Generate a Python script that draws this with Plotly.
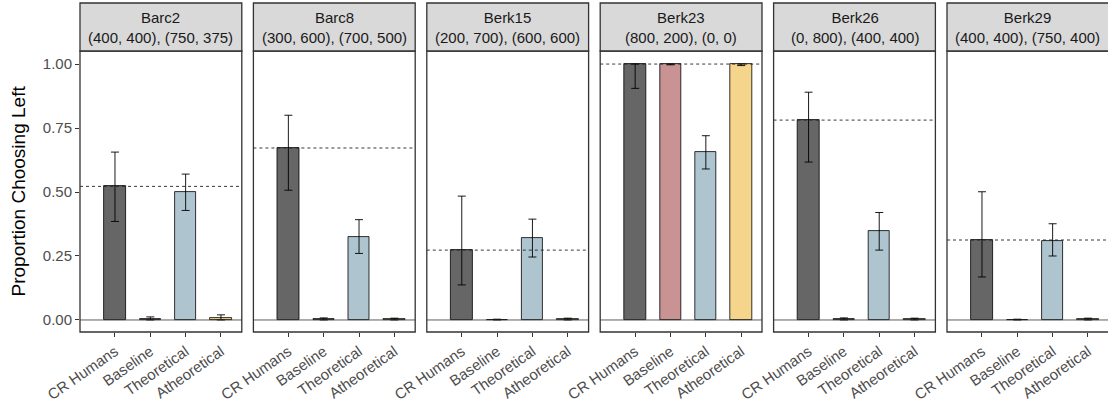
import plotly.graph_objects as go

# ---------------- data ----------------
panels = ["Barc2", "Barc8", "Berk15", "Berk23", "Berk26", "Berk29"]
subtitles = ["(400, 400), (750, 375)", "(300, 600), (700, 500)", "(200, 700), (600, 600)",
             "(800, 200), (0, 0)", "(0, 800), (400, 400)", "(400, 400), (750, 400)"]
categories = ["CR Humans", "Baseline", "Theoretical", "Atheoretical"]

cr_humans = [0.522, 0.672, 0.273, 1.0, 0.781, 0.3125]
cr_lo = [0.385, 0.507, 0.137, 0.905, 0.617, 0.168]
cr_hi = [0.656, 0.800, 0.484, 1.0, 0.890, 0.501]

baseline = [0.005, 0.004, 0.001, 1.0, 0.004, 0.001]
baseline_lo = [0.0, 0.0, 0.0, 0.997, 0.0, 0.0]
baseline_hi = [0.012, 0.008, 0.003, 1.0, 0.008, 0.003]

theoretical = [0.500, 0.323, 0.320, 0.656, 0.348, 0.310]
theo_lo = [0.428, 0.260, 0.246, 0.590, 0.273, 0.250]
theo_hi = [0.570, 0.392, 0.394, 0.720, 0.420, 0.376]

atheoretical = [0.008, 0.002, 0.002, 1.0, 0.002, 0.002]
atheo_lo = [0.0, 0.0, 0.0, 0.994, 0.0, 0.0]
atheo_hi = [0.020, 0.007, 0.007, 1.0, 0.007, 0.007]

y_tickvals = [0.0, 0.25, 0.5, 0.75, 1.0]
y_ticktext = ["0.00", "0.25", "0.50", "0.75", "1.00"]

colors = ["#666666", "#C99393", "#AEC5D0", "#F5D58B"]

# ---------------- layout geometry (pixels) ----------------
W, H = 1108, 404
ML, MT, MB = 80, 51, 72
PW = W - ML
PH = H - MT - MB
panel_step = 173.4
panel_w = 161.8
x_lo, x_hi = -0.99, 3.59
px_per_unit = panel_w / (x_hi - x_lo)
FONT = "Liberation Sans, Arial, Helvetica, sans-serif"

fig = go.Figure()
layout = dict(
    width=W, height=H,
    margin=dict(l=ML, r=0, t=MT, b=MB, pad=0),
    paper_bgcolor="white", plot_bgcolor="white",
    showlegend=False,
    font=dict(family=FONT, color="#4D4D4D", size=15),
    bargap=0,
)
shapes = []
annotations = []

for i, name in enumerate(panels):
    left = i * panel_step
    right = left + panel_w
    d0 = left / PW
    d1 = min(right / PW, 1.0)
    xr_hi = x_lo + (min(right, PW) - left) / px_per_unit
    xs = "" if i == 0 else str(i + 1)
    xa, ya = "x" + xs, "y" + xs

    vals = [cr_humans[i], baseline[i], theoretical[i], atheoretical[i]]
    los = [cr_lo[i], baseline_lo[i], theo_lo[i], atheo_lo[i]]
    his = [cr_hi[i], baseline_hi[i], theo_hi[i], atheo_hi[i]]
    fig.add_trace(go.Bar(
        x=list(range(len(categories))), y=vals, xaxis=xa, yaxis=ya,
        width=0.61,
        marker=dict(color=colors, line=dict(color="black", width=0.8)),
        error_y=dict(type="data", symmetric=False,
                     array=[h - v for h, v in zip(his, vals)],
                     arrayminus=[v - l for v, l in zip(vals, los)],
                     color="black", thickness=0.9, width=4),
        hoverinfo="skip",
    ))

    layout["xaxis" + xs] = dict(
        domain=[d0, d1], anchor=ya, range=[x_lo, xr_hi],
        tickmode="array", tickvals=list(range(len(categories))), ticktext=categories,
        tickangle=-35, ticks="outside", ticklen=4, tickwidth=1, tickcolor="#333333",
        tickfont=dict(size=15, color="#4D4D4D", family=FONT),
        showgrid=False, zeroline=False, showline=False, fixedrange=True,
    )
    ydict = dict(
        domain=[0, 1], anchor=xa, range=[-0.047, 1.051],
        showgrid=False, zeroline=False, showline=False, fixedrange=True,
    )
    if i == 0:
        ydict.update(tickmode="array", tickvals=y_tickvals, ticktext=y_ticktext,
                     ticks="outside", ticklen=4, tickwidth=1, tickcolor="#333333",
                     tickfont=dict(size=15, color="#4D4D4D", family=FONT))
    else:
        ydict.update(matches="y", showticklabels=False, ticks="")
    layout["yaxis" + xs] = ydict

    # zero line and human reference line
    shapes.append(dict(type="line", xref=xa + " domain", yref=ya, x0=0, x1=1, y0=0, y1=0,
                       line=dict(color="#333333", width=0.8), layer="above"))
    shapes.append(dict(type="line", xref=xa + " domain", yref=ya, x0=0, x1=1,
                       y0=cr_humans[i], y1=cr_humans[i],
                       line=dict(color="#222222", width=0.9, dash="3px,3px"), layer="above"))

    # panel frame (last one extends past the visible area)
    fx0 = left / PW
    fx1 = right / PW
    shapes.append(dict(type="rect", xref="paper", yref="paper", x0=fx0, x1=fx1, y0=0, y1=1,
                       line=dict(color="#333333", width=1.3), fillcolor="rgba(0,0,0,0)",
                       layer="above"))
    # strip
    strip_top = 1 + (MT - 3) / PH
    shapes.append(dict(type="rect", xref="paper", yref="paper", x0=fx0, x1=fx1, y0=1, y1=strip_top,
                       line=dict(color="#333333", width=1.3), fillcolor="#D9D9D9",
                       layer="above"))
    annotations.append(dict(xref="paper", yref="paper", x=(fx0 + fx1) / 2, y=(1 + strip_top) / 2,
                            text=name + "<br>" + subtitles[i], showarrow=False,
                            xanchor="center", yanchor="middle", align="center",
                            font=dict(size=15, color="#1A1A1A", family=FONT)))

annotations.append(dict(xref="paper", yref="paper", x=(18 - ML) / PW, y=0.5,
                        text="Proportion Choosing Left", textangle=-90, showarrow=False,
                        xanchor="center", yanchor="middle",
                        font=dict(size=19, color="black", family=FONT)))

layout["shapes"] = shapes
layout["annotations"] = annotations
fig.update_layout(**layout)
fig.write_html("out.html")
